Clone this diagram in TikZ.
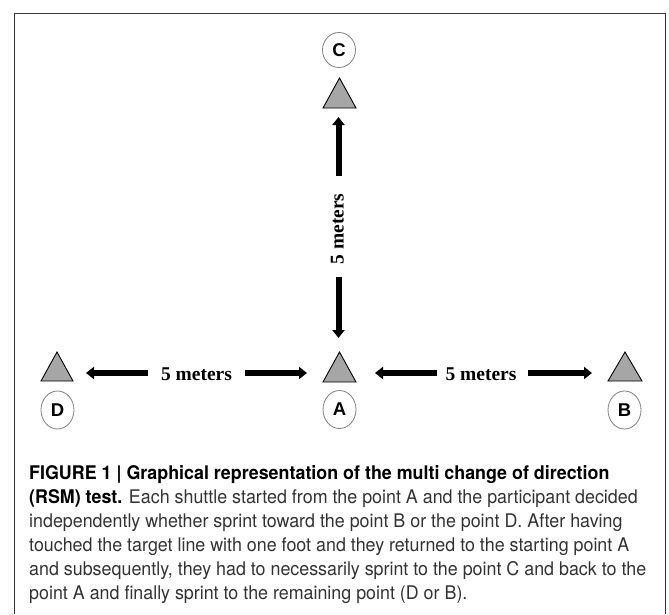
\documentclass[tikz,border=0pt]{standalone}
\usepackage{fontspec}
\setmainfont{Liberation Serif}
\newfontfamily\capfont[FakeStretch=0.95]{TeX Gyre Heros}
\newfontfamily\lblfont{Liberation Sans}
\usetikzlibrary{arrows.meta,shapes.geometric}
\begin{document}
\begin{tikzpicture}[x=1pt,y=-1pt,
  frameline/.style={draw=black!80,line width=1pt},
  tri/.style={fill=black!35,draw=black,line width=0.9pt,line join=miter},
  ptlabel/.style={ellipse,draw=black!50,line width=0.8pt,minimum width=33pt,minimum height=38pt,inner sep=0pt,font=\lblfont\fontsize{18.5}{18.5}\selectfont\bfseries},
  dist/.style={line width=6pt,-{Triangle[width=12pt,length=8pt]}},
  distlabel/.style={font=\fontsize{19.5}{20}\selectfont\bfseries,inner sep=0pt},
  capline/.style={anchor=base west,inner sep=0pt,font=\capfont\fontsize{18.8}{24}\selectfont,text=black!80}
]
\useasboundingbox (0,0) rectangle (669,614);
\draw[frameline] (14,614) -- (14,13) -- (665,13) -- (665,614);

% point labels
\node[ptlabel,minimum height=35pt] (C) at (339,50) {C};
\node[ptlabel] (A) at (339.5,409.5) {A};
\node[ptlabel] (D) at (57.5,410) {D};
\node[ptlabel] (B) at (624.5,410) {B};

% cones
\filldraw[tri] (323,108) -- (339.5,78) -- (356,108) -- cycle;
\filldraw[tri] (323,382) -- (339.5,352) -- (356,382) -- cycle;
\filldraw[tri] (41,381) -- (57,352) -- (73,381) -- cycle;
\filldraw[tri] (608,381) -- (625,352) -- (642,381) -- cycle;

% vertical distance
\coordinate (v1) at (338.5,176);
\coordinate (v1t) at (338.5,117);
\coordinate (v2) at (338.5,277);
\coordinate (v2t) at (338.5,338);
\draw[dist] (v1) -- (v1t);
\draw[dist] (v2) -- (v2t);
\node[distlabel,rotate=90,anchor=base] (vl) at (343.5,229) {5 meters};

% left distance
\coordinate (l1) at (148,373);
\coordinate (l1t) at (86,373);
\coordinate (l2) at (245,373);
\coordinate (l2t) at (307,373);
\draw[dist] (l1) -- (l1t);
\draw[dist] (l2) -- (l2t);
\node[distlabel,anchor=base] (ll) at (196.5,380) {5 meters};

% right distance
\coordinate (r1) at (437,373);
\coordinate (r1t) at (375,373);
\coordinate (r2) at (528,373);
\coordinate (r2t) at (592,373);
\draw[dist] (r1) -- (r1t);
\draw[dist] (r2) -- (r2t);
\node[distlabel,anchor=base] (rl) at (481,380) {5 meters};

% caption
\node[capline,text=black] (c1) at (29,479) {\bfseries FIGURE 1 | Graphical representation of the multi change of direction};
\node[capline] (c2) at (29,503) {{\bfseries\color{black}(RSM) test.} Each shuttle started from the point A and the participant decided};
\node[capline] (c3) at (29,527) {independently whether sprint toward the point B or the point D. After having};
\node[capline] (c4) at (29,551) {touched the target line with one foot and they returned to the starting point A};
\node[capline] (c5) at (29,575) {and subsequently, they had to necessarily sprint to the point C and back to the};
\node[capline] (c6) at (29,599) {point A and finally sprint to the remaining point (D or B).};
\end{tikzpicture}
\end{document}
